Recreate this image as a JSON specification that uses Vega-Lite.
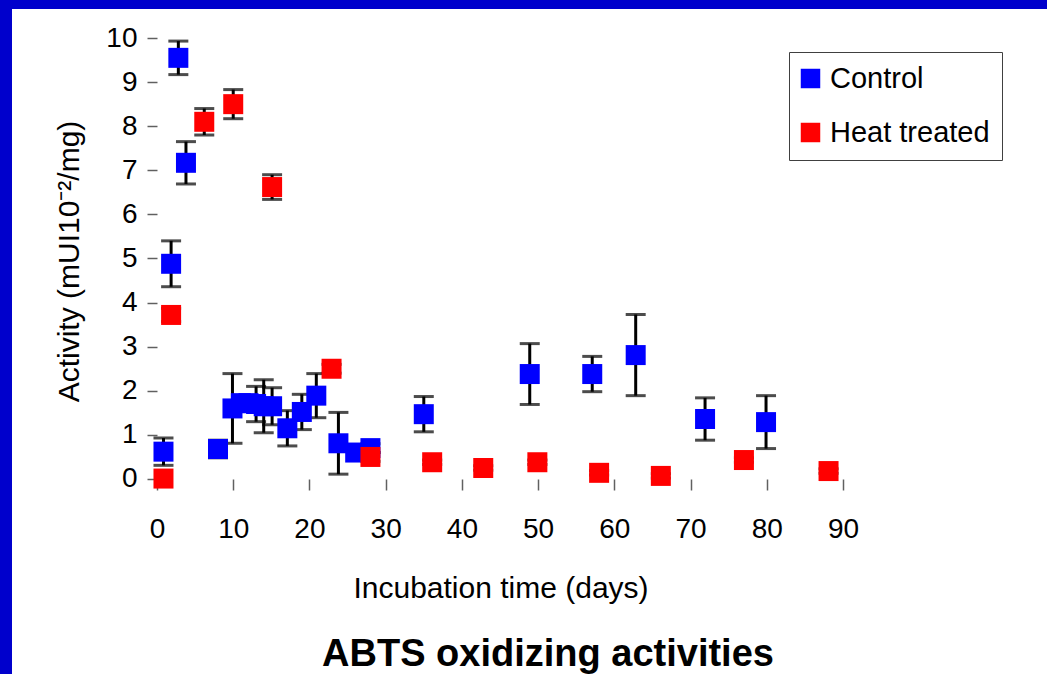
{
  "$schema": "https://vega.github.io/schema/vega-lite/v6.json",
  "width": 1035,
  "height": 665,
  "autosize": {"type": "none"},
  "padding": {"left": 12, "top": 9, "right": 0, "bottom": 0},
  "background": "#0000CC",
  "config": {"view": {"fill": "white", "stroke": null}},
  "title": {"text": "ABTS oxidizing activities", "orient": "bottom", "frame": "group", "anchor": "middle", "offset": -8, "dx": 18.5, "baseline": "alphabetic", "fontSize": 38, "fontWeight": "bold", "font": "Liberation Sans", "color": "black"},
  "data": {"values": [
    {"series": "Control", "day": 0.85, "activity": 0.62, "err": 0.31},
    {"series": "Control", "day": 1.85, "activity": 4.88, "err": 0.52},
    {"series": "Control", "day": 2.8, "activity": 9.55, "err": 0.38},
    {"series": "Control", "day": 3.8, "activity": 7.17, "err": 0.48},
    {"series": "Control", "day": 8.0, "activity": 0.68, "err": 0.2},
    {"series": "Control", "day": 9.9, "activity": 1.6, "err": 0.79},
    {"series": "Control", "day": 11.0, "activity": 1.72, "err": 0},
    {"series": "Control", "day": 12.0, "activity": 1.72, "err": 0},
    {"series": "Control", "day": 13.0, "activity": 1.7, "err": 0.4},
    {"series": "Control", "day": 14.0, "activity": 1.65, "err": 0.6},
    {"series": "Control", "day": 15.1, "activity": 1.65, "err": 0.42},
    {"series": "Control", "day": 17.1, "activity": 1.15, "err": 0.4},
    {"series": "Control", "day": 19.0, "activity": 1.52, "err": 0.4},
    {"series": "Control", "day": 20.9, "activity": 1.89, "err": 0.5},
    {"series": "Control", "day": 23.8, "activity": 0.81, "err": 0.7},
    {"series": "Control", "day": 26.0, "activity": 0.6, "err": 0},
    {"series": "Control", "day": 28.0, "activity": 0.7, "err": 0.1},
    {"series": "Control", "day": 35.0, "activity": 1.47, "err": 0.4},
    {"series": "Control", "day": 48.9, "activity": 2.38, "err": 0.69},
    {"series": "Control", "day": 57.1, "activity": 2.38, "err": 0.4},
    {"series": "Control", "day": 62.8, "activity": 2.81, "err": 0.92},
    {"series": "Control", "day": 71.9, "activity": 1.36, "err": 0.48},
    {"series": "Control", "day": 79.9, "activity": 1.29, "err": 0.6},
    {"series": "Heat treated", "day": 0.85, "activity": 0.01, "err": 0},
    {"series": "Heat treated", "day": 1.85, "activity": 3.72, "err": 0.15},
    {"series": "Heat treated", "day": 6.2, "activity": 8.1, "err": 0.3},
    {"series": "Heat treated", "day": 10.0, "activity": 8.5, "err": 0.33},
    {"series": "Heat treated", "day": 15.1, "activity": 6.62, "err": 0.28},
    {"series": "Heat treated", "day": 22.9, "activity": 2.5, "err": 0.1},
    {"series": "Heat treated", "day": 28.0, "activity": 0.5, "err": 0.1},
    {"series": "Heat treated", "day": 36.1, "activity": 0.38, "err": 0.05},
    {"series": "Heat treated", "day": 42.8, "activity": 0.25, "err": 0.05},
    {"series": "Heat treated", "day": 49.9, "activity": 0.38, "err": 0.05},
    {"series": "Heat treated", "day": 58.0, "activity": 0.14, "err": 0.05},
    {"series": "Heat treated", "day": 66.1, "activity": 0.07, "err": 0.05},
    {"series": "Heat treated", "day": 77.0, "activity": 0.43, "err": 0.05},
    {"series": "Heat treated", "day": 88.1, "activity": 0.18, "err": 0.05}
  ]},
  "encoding": {
    "x": {
      "field": "day", "type": "quantitative",
      "scale": {"domain": [-19.023, 116.76], "nice": false, "zero": false},
      "axis": {
        "title": "Incubation time (days)",
        "values": [0, 10, 20, 30, 40, 50, 60, 70, 80, 90],
        "domain": false, "grid": false, "offset": -195,
        "tickSize": 11, "tickColor": "#606060", "tickWidth": 1.5,
        "labelFontSize": 28, "labelFont": "Liberation Sans", "labelColor": "black",
        "labelPadding": 25, "labelFlush": false, "labelOverlap": false,
        "titleFontSize": 30, "titleFont": "Liberation Sans", "titleFontWeight": "normal", "titleColor": "black",
        "titleX": 488.5, "titleY": 118, "titleBaseline": "alphabetic", "titleAlign": "center"
      }
    },
    "y": {
      "field": "activity", "type": "quantitative",
      "scale": {"domain": [-4.4218, 10.6576], "nice": false, "zero": false},
      "axis": {
        "title": "Activity (mUI10⁻²/mg)",
        "values": [0, 1, 2, 3, 4, 5, 6, 7, 8, 9, 10],
        "domain": false, "grid": false, "offset": -145,
        "tickSize": 10, "tickColor": "#606060", "tickWidth": 1.5,
        "labelFontSize": 28, "labelFont": "Liberation Sans", "labelColor": "black",
        "labelPadding": 10, "labelFlush": false, "labelOverlap": false,
        "titleFontSize": 30, "titleFont": "Liberation Sans", "titleFontWeight": "normal", "titleColor": "black",
        "titleX": -79, "titleY": 252, "titleBaseline": "alphabetic", "titleAlign": "center", "titleAngle": 270
      }
    }
  },
  "layer": [
    {
      "data": {"values": [{}]},
      "mark": {"type": "rule", "color": "#808080", "strokeWidth": 2},
      "encoding": {"x": {"datum": 0}, "y": {"datum": 0}, "y2": {"datum": 10}}
    },
    {
      "data": {"values": [{}]},
      "mark": {"type": "rule", "color": "#808080", "strokeWidth": 2},
      "encoding": {"x": {"datum": 0}, "x2": {"datum": 90}, "y": {"datum": 0}}
    },
    {
      "transform": [{"filter": "datum.err > 0"}],
      "mark": {"type": "errorbar", "color": "black", "thickness": 3, "ticks": {"size": 20, "thickness": 3, "color": "black"}, "rule": {"strokeWidth": 3, "color": "black"}},
      "encoding": {"yError": {"field": "err"}}
    },
    {
      "mark": {"type": "point", "shape": "square", "filled": true, "size": 400, "opacity": 1, "strokeWidth": 0},
      "encoding": {
        "color": {
          "field": "series", "type": "nominal",
          "scale": {"domain": ["Control", "Heat treated"], "range": ["#0000FF", "#FF0000"]},
          "legend": {
            "orient": "none", "legendX": 777, "legendY": 43, "title": null,
            "strokeColor": "#404040", "fillColor": "white", "padding": 12, "rowPadding": 24,
            "symbolType": "square", "symbolSize": 380, "symbolStrokeWidth": 0, "symbolOpacity": 1, "symbolOffset": -5,
            "labelFontSize": 29, "labelFont": "Liberation Sans", "labelColor": "black", "labelOffset": 5
          }
        }
      }
    }
  ]
}
